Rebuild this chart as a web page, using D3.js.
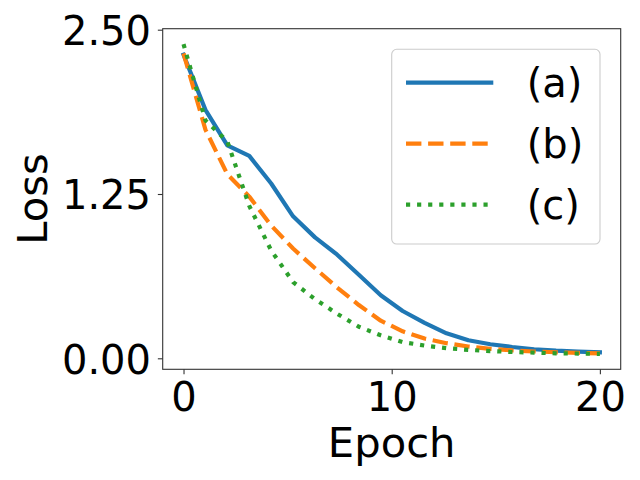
<!DOCTYPE html>
<html>
<head>
<meta charset="utf-8">
<script src="https://d3js.org/d3.v7.min.js"></script>
<style>
    body { margin: 0; background: #fff; }
    text { font-family: "DejaVu Sans", sans-serif; fill: #000; }
</style>
</head>
<body>
<svg id="drawing_region"></svg>
<script>
// epochs where loss was logged (20 points from 0 to 20)
const epochs = [0, 1.053, 2.105, 3.158, 4.211, 5.263, 6.316, 7.368, 8.421, 9.474,
		10.526, 11.579, 12.632, 13.684, 14.737, 15.789, 16.842, 17.895, 18.947, 20];
const loss_a = [2.31, 1.89, 1.62, 1.54, 1.33, 1.08, 0.92, 0.79, 0.635, 0.48,
		0.36, 0.27, 0.19, 0.137, 0.107, 0.086, 0.069, 0.058, 0.051, 0.046];
const loss_b = [2.32, 1.74, 1.40, 1.23, 1.01, 0.835, 0.685, 0.54, 0.405, 0.286,
		0.205, 0.15, 0.115, 0.09, 0.072, 0.06, 0.052, 0.046, 0.041, 0.038];
const loss_c = [2.39, 1.81, 1.65, 1.16, 0.82, 0.58, 0.45, 0.34, 0.24, 0.175,
		0.123, 0.097, 0.077, 0.064, 0.055, 0.048, 0.043, 0.038, 0.036, 0.034];
const series_names = ['(a)', '(b)', '(c)'];
const x_ticks = [0, 10, 20];
const y_ticks = [0, 1.25, 2.5];

var config = {
    parent: '#drawing_region',
    width: 640,
    height: 480,
    left: 162.7, right: 620.7, top: 28.7, bottom: 369.3
};

class LossChart {

    constructor( config ){
	this.config = config;
	this.init();
    }

    init() {
	let self = this;
	let c = self.config;

	self.svg = d3.select( c.parent )
	    .attr('width', c.width)
	    .attr('height', c.height);

	self.xscale = d3.scaleLinear()
	    .domain([-1, 21])
	    .range([c.left, c.right]);

	self.yscale = d3.scaleLinear()
	    .domain([-0.0837, 2.5076])
	    .range([c.bottom, c.top]);

	self.styles = [
	    { color: '#1f77b4', dash: null },
	    { color: '#ff7f0e', dash: '15.4,6.7' },
	    { color: '#2ca02c', dash: '4.17,6.9' }
	];
    }

    render() {
	let self = this;
	let c = self.config;
	let all = [loss_a, loss_b, loss_c];

	let line = d3.line()
	    .x( (d, i) => self.xscale(epochs[i]) )
	    .y( d => self.yscale(d) );

	self.svg.selectAll('path.series')
	    .data(all)
	    .enter()
	    .append('path')
	    .attr('class', 'series')
	    .attr('d', line)
	    .attr('fill', 'none')
	    .attr('stroke', (d, i) => self.styles[i].color)
	    .attr('stroke-width', 4.17)
	    .attr('stroke-dasharray', (d, i) => self.styles[i].dash)
	    .attr('stroke-linejoin', 'round')
	    .attr('stroke-linecap', (d, i) => i == 0 ? 'square' : 'butt');

	// axes
	let xaxis = d3.axisBottom(self.xscale)
	    .tickValues(x_ticks)
	    .tickSize(4.86)
	    .tickPadding(5)
	    .tickFormat(d3.format('d'));
	let yaxis = d3.axisLeft(self.yscale)
	    .tickValues(y_ticks)
	    .tickSize(4.86)
	    .tickPadding(6)
	    .tickFormat(d3.format('.2f'));

	let gx = self.svg.append('g')
	    .attr('transform', `translate(0, ${c.bottom})`)
	    .call(xaxis);
	let gy = self.svg.append('g')
	    .attr('transform', `translate(${c.left}, 0)`)
	    .call(yaxis);

	[gx, gy].forEach( g => {
	    g.select('.domain').remove();
	    g.selectAll('line').attr('stroke', '#333').attr('stroke-width', 1.1);
	    g.selectAll('text')
		.style('font-family', '"DejaVu Sans", sans-serif')
		.style('font-size', '40px')
		.attr('fill', '#000');
	});
	gx.selectAll('text').attr('dy', null).attr('y', 41.4);
	gy.selectAll('text').attr('dy', null).attr('y', 14.8).attr('x', -11.7);

	// frame
	self.svg.append('rect')
	    .attr('x', c.left)
	    .attr('y', c.top)
	    .attr('width', c.right - c.left)
	    .attr('height', c.bottom - c.top)
	    .attr('fill', 'none')
	    .attr('stroke', '#333')
	    .attr('stroke-width', 1.1);

	// axis labels
	self.svg.append('text')
	    .attr('x', (c.left + c.right) / 2)
	    .attr('y', 456.7)
	    .attr('text-anchor', 'middle')
	    .style('font-size', '41.7px')
	    .text('Epoch');
	self.svg.append('text')
	    .attr('transform', `translate(46.7, ${(c.top + c.bottom) / 2}) rotate(-90)`)
	    .attr('text-anchor', 'middle')
	    .style('font-size', '41.7px')
	    .text('Loss');

	// legend
	let lg = self.svg.append('g');
	lg.append('rect')
	    .attr('x', 391.7)
	    .attr('y', 49.3)
	    .attr('width', 208.3)
	    .attr('height', 194.7)
	    .attr('rx', 5)
	    .attr('fill', 'rgba(255,255,255,0.8)')
	    .attr('stroke', '#cccccc')
	    .attr('stroke-width', 1.1);

	let rows = lg.selectAll('g.row')
	    .data(series_names)
	    .enter()
	    .append('g')
	    .attr('transform', (d, i) => `translate(0, ${82.7 + i * 61})`);
	rows.append('line')
	    .attr('x1', 406)
	    .attr('x2', 493.3)
	    .attr('stroke', (d, i) => self.styles[i].color)
	    .attr('stroke-width', 4.17)
	    .attr('stroke-dasharray', (d, i) => self.styles[i].dash);
	rows.append('text')
	    .attr('x', 526.7)
	    .attr('y', 14.5)
	    .style('font-size', '40px')
	    .text(d => d);
    }
}

const chart = new LossChart( config );
chart.render();
</script>
</body>
</html>
